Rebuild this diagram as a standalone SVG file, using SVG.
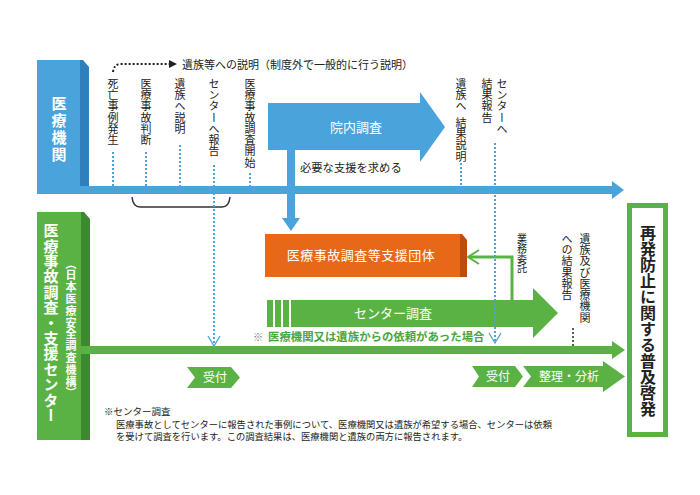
<svg xmlns="http://www.w3.org/2000/svg" width="700" height="495" viewBox="0 0 700 495">
<style>
text{font-family:"Noto Sans CJK JP","Noto Sans CJK SC",sans-serif;}
.v{writing-mode:vertical-rl;}
.lbl{font-size:11px;fill:#222;letter-spacing:0.3px;}
.w{fill:#fff;}
.blue{fill:#4ba3dc;}
.dblue{fill:#2f7fbd;}
.green{fill:#5bb244;}
.dgreen{fill:#3c8a2f;}
.dot{stroke:#4ba3dc;stroke-width:2;stroke-dasharray:2 2;fill:none;}
.chev{stroke:#4ba3dc;stroke-width:1.3;fill:none;}
</style>
<rect width="700" height="495" fill="#fff"/>

<g id="iryokikan">
  <rect class="blue" x="37" y="60" width="43" height="134"/>
  <polygon class="dblue" points="80,60 83,60 89,67 89,186 80,186"/>
  <text class="v w" x="59" y="96" font-size="15" font-weight="bold" letter-spacing="2">医療機関</text>
</g>

<g id="center">
  <rect class="green" x="37" y="212" width="44" height="228"/>
  <polygon class="dgreen" points="81,212 84,212 90,219 90,440 81,440"/>
  <text class="v w" x="51" y="223" font-size="15" font-weight="bold" letter-spacing="0.4">医療事故調査・支援センター</text>
  <text class="v w" x="71" y="258" font-size="11" font-weight="bold" letter-spacing="0.8">（日本医療安全調査機構）</text>
</g>

<g id="fukyu">
  <rect x="629.5" y="205.5" width="36" height="229" fill="#fff" stroke="#5bb244" stroke-width="5"/>
  <text class="v" x="648" y="225" font-size="16" font-weight="bold" fill="#222">再発防止に関する普及啓発</text>
</g>

<g id="innai">
  <polygon class="blue" points="268,103 420,103 420,92 445,127 420,162 420,150 268,150"/>
  <text class="w" x="356" y="132" font-size="13" text-anchor="middle">院内調査</text>
</g>

<g id="shiendantai">
  <rect x="265" y="234" width="195" height="43" fill="#e8681a"/>
  <polygon points="460,234 462,234 467,240 467,277 460,277" fill="#b94e0e"/>
  <text class="w" x="361" y="260" font-size="13" letter-spacing="0.5" text-anchor="middle">医療事故調査等支援団体</text>
</g>

<g id="center-chosa">
  <rect class="green" x="267" y="300" width="6" height="27"/>
  <rect class="green" x="275" y="300" width="6" height="27"/>
  <rect class="green" x="283" y="300" width="6" height="27"/>
  <polygon class="green" points="291,300 533,300 533,288 558,313 533,338 533,327 291,327"/>
  <text class="w" x="393" y="318" font-size="13" text-anchor="middle">センター調査</text>
</g>

<g id="uketsuke1">
  <polygon class="green" points="187,367 231,367 240,377.5 231,388 187,388 195,377.5"/>
  <text class="w" x="215" y="382" font-size="12" text-anchor="middle">受付</text>
</g>
<g id="uketsuke2">
  <polygon class="green" points="472,366 515,366 523,376.5 515,387 472,387 479,376.5"/>
  <text class="w" x="498" y="381" font-size="12" text-anchor="middle">受付</text>
</g>
<g id="seiri">
  <polygon class="green" points="523,366 603,366 603,361 625,376.5 603,392 603,387 523,387 531,376.5"/>
  <text class="w" x="569" y="381" font-size="12" text-anchor="middle">整理・分析</text>
</g>

<g id="labels">
  <text class="v lbl" x="113" y="78">死亡事例発生</text>
  <text class="v lbl" x="146" y="78">医療事故判断</text>
  <text class="v lbl" x="180" y="78">遺族へ説明</text>
  <text class="v lbl" x="214" y="78">センターへ報告</text>
  <text class="v lbl" x="250" y="78">医療事故調査開始</text>
  <text class="v lbl" x="461" y="78">遺族へ</text>
  <text class="v lbl" x="461" y="117">結果説明</text>
  <text class="v lbl" x="502" y="78">センターへ</text>
  <text class="v lbl" x="487" y="78">結果報告</text>
  <text class="v" x="522" y="233" font-size="10" fill="#222">業務委託</text>
  <text class="v lbl" x="585" y="233">遺族及び医療機関</text>
  <text class="v lbl" x="567" y="233">への結果報告</text>
  <text x="182" y="69" font-size="11" fill="#222">遺族等への説明（制度外で一般的に行う説明）</text>
  <text x="300" y="172" font-size="11.3" fill="#222">必要な支援を求める</text>
  <text x="253" y="341" font-size="10" fill="#777">※</text>
  <text x="268" y="341" font-size="11.4" font-weight="bold" fill="#4aa53c">医療機関又は遺族からの依頼があった場合</text>
</g>

<g id="connectors">
  <polygon class="blue" points="80,186 612,186 612,181 624,190 612,199 612,194 80,194"/>
  <polygon class="green" points="81,346 612,346 612,341 625,350 612,359 612,354 81,354"/>
  <rect class="blue" x="287" y="150" width="8" height="69"/>
  <polygon class="blue" points="282,218 300,218 291,231"/>
  <polyline points="512,300 512,257 469,257" fill="none" stroke="#5bb244" stroke-width="3"/>
  <polyline points="479,250 468,257 479,264" fill="none" stroke="#5bb244" stroke-width="2"/>
  <path d="M113,72 Q114,64 121,64 L169,64" fill="none" stroke="#222" stroke-width="2" stroke-dasharray="2 2"/>
  <polygon points="169,60 177,64 169,68" fill="#222"/>
  <path d="M132,197 Q133,207 140,207 L222,207 Q229,207 230,197" fill="none" stroke="#333" stroke-width="1.5"/>
  <line class="dot" x1="113" y1="152" x2="113" y2="186"/>
  <line class="dot" x1="146" y1="152" x2="146" y2="186"/>
  <line class="dot" x1="180" y1="145" x2="180" y2="186"/>
  <line class="dot" x1="214" y1="165" x2="214" y2="345"/>
  <polyline class="chev" points="208,336 214,346 220,336"/>
  <line class="dot" x1="250" y1="173" x2="250" y2="186"/>
  <line class="dot" x1="461" y1="163" x2="461" y2="186"/>
  <line class="dot" x1="495" y1="143" x2="495" y2="342"/>
  <polyline class="chev" points="489,333 495,343 501,333"/>
  <line x1="573" y1="328" x2="573" y2="346" stroke="#4d6448" stroke-width="2" stroke-dasharray="2 2"/>
</g>

<g id="footnote" fill="#222">
  <text x="104" y="415" font-size="9.5">※センター調査</text>
  <text x="116" y="427.5" font-size="9.3">医療事故としてセンターに報告された事例について、医療機関又は遺族が希望する場合、センターは依頼</text>
  <text x="116" y="440" font-size="9.3">を受けて調査を行います。この調査結果は、医療機関と遺族の両方に報告されます。</text>
</g>
</svg>
